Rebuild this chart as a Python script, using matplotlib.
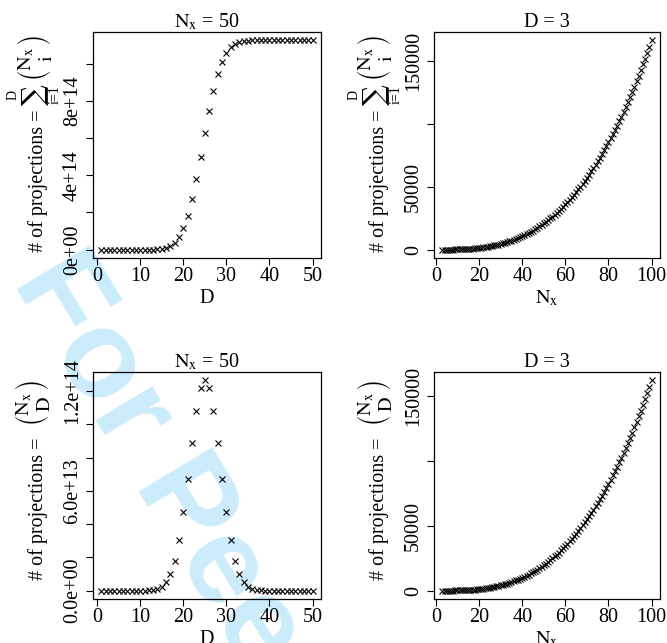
import matplotlib
matplotlib.use("Agg")
import matplotlib.pyplot as plt

plt.rcParams['font.family'] = ['Liberation Serif', 'DejaVu Serif']
plt.rcParams['mathtext.fontset'] = 'stix'

# ---------------- data ----------------
D_vals = list(range(1, 51))
cum_binom_50 = [
    50, 1275, 20875, 251175, 2369935, 18260635, 118145035, 655023685,
    3160457385, 13432735555, 50786474355, 172186125455, 527046644055,
    1464892300355, 3715721875475, 8639411571050, 18486790962200,
    36540319845975, 66946263229175, 114075475473135, 181402921535935,
    270152736800535, 378195990166135, 499744650202435, 626155256640187,
    747703916676487, 855747170042087, 944496985306687, 1011824431369487,
    1058953643613447, 1089359586996647, 1107413115880422, 1117260495271572,
    1122184184967147, 1124435014542267, 1125372860198567, 1125727720717167,
    1125849120368267, 1125886474107067, 1125896746385237, 1125899251818937,
    1125899788697587, 1125899888581987, 1125899904472687, 1125899906591447,
    1125899906821747, 1125899906841347, 1125899906842572, 1125899906842622,
    1125899906842623]
binom_50 = [
    50, 1225, 19600, 230300, 2118760, 15890700, 99884400, 536878650,
    2505433700, 10272278170, 37353738800, 121399651100, 354860518600,
    937845656300, 2250829575120, 4923689695575, 9847379391150,
    18053528883775, 30405943383200, 47129212243960, 67327446062800,
    88749815264600, 108043253365600, 121548660036300, 126410606437752,
    121548660036300, 108043253365600, 88749815264600, 67327446062800,
    47129212243960, 30405943383200, 18053528883775, 9847379391150,
    4923689695575, 2250829575120, 937845656300, 354860518600,
    121399651100, 37353738800, 10272278170, 2505433700, 536878650,
    99884400, 15890700, 2118760, 230300, 19600, 1225, 50, 1]

Nx_vals = list(range(3, 101))
cum_binom_D3 = [
    7, 14, 25, 41, 63, 92, 129, 175, 231, 298, 377, 469, 575, 696, 833, 987,
    1159, 1350, 1561, 1793, 2047, 2324, 2625, 2951, 3303, 3682, 4089, 4525,
    4991, 5488, 6017, 6579, 7175, 7806, 8473, 9177, 9919, 10700, 11521,
    12383, 13287, 14234, 15225, 16261, 17343, 18472, 19649, 20875, 22151,
    23478, 24857, 26289, 27775, 29316, 30913, 32567, 34279, 36050, 37881,
    39773, 41727, 43744, 45825, 47971, 50183, 52462, 54809, 57225, 59711,
    62268, 64897, 67599, 70375, 73226, 76153, 79157, 82239, 85400, 88641,
    91963, 95367, 98854, 102425, 106081, 109823, 113652, 117569, 121575,
    125671, 129858, 134137, 138509, 142975, 147536, 152193, 156947,
    161799, 166750]
binom_D3 = [
    1, 4, 10, 20, 35, 56, 84, 120, 165, 220, 286, 364, 455, 560, 680, 816,
    969, 1140, 1330, 1540, 1771, 2024, 2300, 2600, 2925, 3276, 3654, 4060,
    4495, 4960, 5456, 5984, 6545, 7140, 7770, 8436, 9139, 9880, 10660,
    11480, 12341, 13244, 14190, 15180, 16215, 17296, 18424, 19600, 20825,
    22100, 23426, 24804, 26235, 27720, 29260, 30856, 32509, 34220, 35990,
    37820, 39711, 41664, 43680, 45760, 47905, 50116, 52394, 54740, 57155,
    59640, 62196, 64824, 67525, 70300, 73150, 76076, 79079, 82160, 85320,
    88560, 91881, 95284, 98770, 102340, 105995, 109736, 113564, 117480,
    121485, 125580, 129766, 134044, 138415, 142880, 147440, 152096,
    156849, 161700]

left_xticks = [0, 10, 20, 30, 40, 50]
right_xticks = [0, 20, 40, 60, 80, 100]
tl_yticks = [0, 2e14, 4e14, 6e14, 8e14, 1e15]
tl_ylabels = ['0e+00', '', '4e+14', '', '8e+14', '']
bl_yticks = [0, 2e13, 4e13, 6e13, 8e13, 1e14, 1.2e14]
bl_ylabels = ['0.0e+00', '', '', '6.0e+13', '', '', '1.2e+14']
r_yticks = [0, 50000, 100000, 150000]
r_ylabels = ['0', '50000', '', '150000']

title_left = r'$\mathrm{N_x}$ = 50'
title_right = 'D = 3'
ylab_text = '# of projections ='
binom_i = r'$\genfrac{(}{)}{0}{0}{\mathrm{N_x}}{\mathrm{i}}$'
binom_D = r'$\genfrac{(}{)}{0}{0}{\mathrm{N_x}}{\mathrm{D}}$'

# ---------------- figure ----------------
W, H = 667, 643
fig = plt.figure(figsize=(W / 100, H / 100), dpi=100)
fig.patch.set_facecolor('white')

def px_axes(l, t, r, b):
    return fig.add_axes([l / W, 1 - b / H, (r - l) / W, (b - t) / H])

def ptext(x, y, s, **kw):
    return fig.text(x / W, 1 - y / H, s, **kw)

FS = 14.5

def ylabel_sum(xoff):
    ptext(43 + xoff, 252, ylab_text, fontsize=FS, rotation=90,
          rotation_mode='anchor', ha='left', va='baseline')
    ptext(34 + xoff, 95, '\u2211', fontsize=21, rotation=90,
          family='DejaVu Serif', ha='center', va='center')
    ptext(13 + xoff, 95, 'D', fontsize=10, rotation=90,
          ha='center', va='center')
    ptext(55 + xoff, 95, 'i=1', fontsize=10, rotation=90,
          ha='center', va='center')
    ptext(34 + xoff, 58, binom_i, fontsize=FS, rotation=90,
          ha='center', va='center')

def ylabel_bin(xoff):
    ptext(43 + xoff, 580, ylab_text, fontsize=FS, rotation=90,
          rotation_mode='anchor', ha='left', va='baseline')
    ptext(33 + xoff, 403, binom_D, fontsize=FS, rotation=90,
          ha='center', va='center')

axes = [
    (px_axes(93, 32, 321, 258), D_vals, cum_binom_50, left_xticks, tl_yticks, tl_ylabels, title_left, 'D'),
    (px_axes(434, 32, 660, 258), Nx_vals, cum_binom_D3, right_xticks, r_yticks, r_ylabels, title_right, r'$\mathrm{N_x}$'),
    (px_axes(93, 372, 321, 599), D_vals, binom_50, left_xticks, bl_yticks, bl_ylabels, title_left, 'D'),
    (px_axes(434, 372, 660, 599), Nx_vals, binom_D3, right_xticks, r_yticks, r_ylabels, title_right, r'$\mathrm{N_x}$'),
]

for ax, xs, ys, xt, yt, yl, title, xlab in axes:
    ax.set_facecolor('none')
    ax.plot(xs, ys, linestyle='none', marker='x', markersize=4.5,
            markeredgewidth=0.8, color='black')
    ax.margins(x=0.04, y=0.04)
    ax.set_xticks(xt)
    ax.set_xticklabels([str(v) for v in xt], fontsize=FS)
    ax.set_yticks(yt)
    ax.set_yticklabels(yl, fontsize=FS, rotation=90, va='center')
    ax.tick_params(axis='both', direction='out', length=5, width=0.8, color='black')
    ax.tick_params(axis='x', pad=1.5)
    ax.tick_params(axis='y', pad=3)
    for s in ax.spines.values():
        s.set_linewidth(0.9)
    ax.set_title(title, fontsize=FS, pad=3)
    ax.set_xlabel(xlab, fontsize=FS, labelpad=2)

ylabel_sum(0)
ylabel_sum(341)
ylabel_bin(0)
ylabel_bin(341)

# watermark
ptext(12, 281, 'For Peer Review', fontsize=90,
      family='Liberation Sans', weight='bold', color='#ccecfc',
      rotation=-59, rotation_mode='anchor', ha='left', va='baseline',
      zorder=-5)

fig.savefig('out.png', dpi=100)
